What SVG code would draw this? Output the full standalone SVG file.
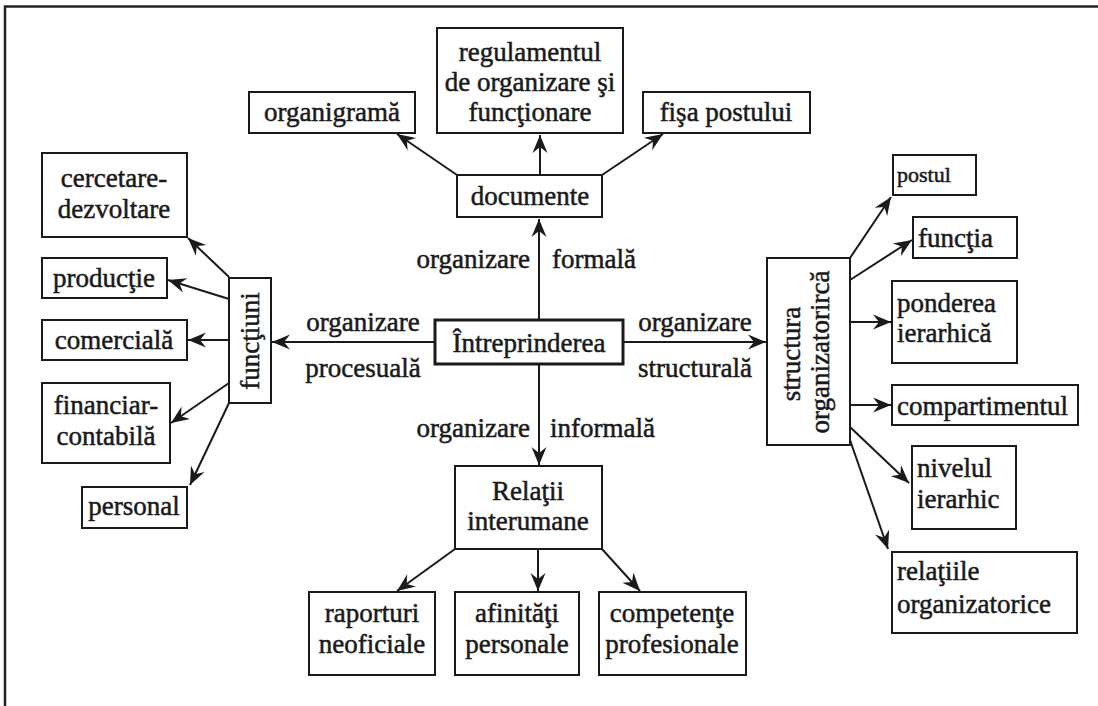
<svg xmlns="http://www.w3.org/2000/svg" width="1098" height="706" viewBox="0 0 1098 706">
<style>
  .box { fill: #fff; stroke: #1a1a1a; stroke-width: 2; }
  .main { fill: #fff; stroke: #1a1a1a; stroke-width: 3; }
  text { font-family: "Liberation Serif", "Times New Roman", serif; font-size: 27px; fill: #1a1a1a; stroke: #1a1a1a; stroke-width: 0.5; }
  .c { text-anchor: middle; }
  .e { text-anchor: end; }
  .sm { font-size: 22px; }
  .conn line { stroke: #1a1a1a; stroke-width: 2; marker-end: url(#arr); }
</style>
<defs>
  <marker id="arr" viewBox="-19 -8 20 16" refX="0" refY="0" markerWidth="20" markerHeight="16" markerUnits="userSpaceOnUse" orient="auto">
    <path d="M0,0 L-18,-7.5 L-12,0 L-18,7.5 Z" fill="#1a1a1a"/>
  </marker>
</defs>
<rect width="1098" height="706" fill="#fff"/>
<g id="frame">
  <line x1="4" y1="6.5" x2="1098" y2="6.5" stroke="#222" stroke-width="2.5"/>
  <line x1="5" y1="6" x2="5" y2="706" stroke="#222" stroke-width="2.5"/>
</g>
<g class="conn" id="connectors">
  <line x1="539" y1="320" x2="539" y2="219"/>
  <line x1="457" y1="175" x2="397" y2="134"/>
  <line x1="540" y1="175" x2="540" y2="135"/>
  <line x1="602" y1="175" x2="663" y2="134"/>
  <line x1="539" y1="364" x2="539" y2="465"/>
  <line x1="455" y1="549" x2="397" y2="591"/>
  <line x1="538" y1="549" x2="538" y2="591"/>
  <line x1="602" y1="549" x2="640" y2="591"/>
  <line x1="435" y1="342" x2="272" y2="342"/>
  <line x1="623" y1="342" x2="766" y2="342"/>
  <line x1="229" y1="277" x2="188" y2="238"/>
  <line x1="229" y1="299" x2="168" y2="280"/>
  <line x1="229" y1="340" x2="188" y2="340"/>
  <line x1="229" y1="383" x2="171" y2="423"/>
  <line x1="229" y1="403" x2="190" y2="485"/>
  <line x1="850" y1="258" x2="891" y2="197"/>
  <line x1="850" y1="280" x2="912" y2="240"/>
  <line x1="850" y1="322" x2="891" y2="322"/>
  <line x1="850" y1="405" x2="891" y2="405"/>
  <line x1="850" y1="427" x2="909" y2="483"/>
  <line x1="850" y1="440" x2="888" y2="549"/>
</g>
<g id="labels">
  <text class="e" x="530" y="268">organizare</text>
  <text x="552" y="268">formală</text>
  <text class="c" x="363" y="331">organizare</text>
  <text class="c" x="363" y="377">procesuală</text>
  <text class="c" x="695" y="331">organizare</text>
  <text class="c" x="695" y="377">structurală</text>
  <text class="e" x="530" y="437">organizare</text>
  <text x="550" y="437">informală</text>
</g>
<g id="intreprinderea">
  <rect class="main" x="435" y="320" width="188" height="44"/>
  <text class="c" x="529" y="352">Întreprinderea</text>
</g>
<g id="documente">
  <rect class="box" x="457" y="175" width="145" height="42"/>
  <text class="c" x="530" y="205">documente</text>
</g>
<g id="organigrama">
  <rect class="box" x="249" y="92" width="166" height="41"/>
  <text class="c" x="332" y="121">organigramă</text>
</g>
<g id="regulamentul">
  <rect class="box" x="437" y="28" width="186" height="105"/>
  <text class="c" x="530" y="61">regulamentul</text>
  <text class="c" x="530" y="91">de organizare şi</text>
  <text class="c" x="530" y="121">funcţionare</text>
</g>
<g id="fisa">
  <rect class="box" x="643" y="92" width="167" height="41"/>
  <text class="c" x="726" y="121">fişa postului</text>
</g>
<g id="relatii">
  <rect class="box" x="455" y="466" width="147" height="83"/>
  <text class="c" x="528" y="500">Relaţii</text>
  <text class="c" x="528" y="530">interumane</text>
</g>
<g id="raporturi">
  <rect class="box" x="309" y="592" width="126" height="83"/>
  <text class="c" x="372" y="622">raporturi</text>
  <text class="c" x="372" y="653">neoficiale</text>
</g>
<g id="afinitati">
  <rect class="box" x="455" y="592" width="124" height="83"/>
  <text class="c" x="517" y="622">afinităţi</text>
  <text class="c" x="517" y="653">personale</text>
</g>
<g id="competente">
  <rect class="box" x="599" y="592" width="147" height="83"/>
  <text class="c" x="672" y="622">competenţe</text>
  <text class="c" x="672" y="653">profesionale</text>
</g>
<g id="functiuni">
  <rect class="box" x="229" y="278" width="42" height="125"/>
  <text class="c" transform="translate(259,341) rotate(-90)">funcţiuni</text>
</g>
<g id="cercetare">
  <rect class="box" x="42" y="153" width="145" height="84"/>
  <text class="c" x="114" y="187">cercetare-</text>
  <text class="c" x="114" y="218">dezvoltare</text>
</g>
<g id="productie">
  <rect class="box" x="42" y="258" width="125" height="40"/>
  <text class="c" x="104" y="287">producţie</text>
</g>
<g id="comerciala">
  <rect class="box" x="42" y="320" width="145" height="40"/>
  <text class="c" x="114" y="349">comercială</text>
</g>
<g id="financiar">
  <rect class="box" x="42" y="383" width="128" height="80"/>
  <text class="c" x="106" y="414">financiar-</text>
  <text class="c" x="106" y="445">contabilă</text>
</g>
<g id="personal">
  <rect class="box" x="82" y="487" width="105" height="41"/>
  <text class="c" x="134" y="515">personal</text>
</g>
<g id="structura">
  <rect class="box" x="767" y="258" width="83" height="187"/>
  <text class="c" transform="translate(800,354) rotate(-90)">structura</text>
  <text class="c" transform="translate(829,352) rotate(-90)">organizatorircă</text>
</g>
<g id="postul">
  <rect class="box" x="893" y="155" width="83" height="40"/>
  <text class="sm" x="897" y="182">postul</text>
</g>
<g id="functia">
  <rect class="box" x="913" y="217" width="104" height="41"/>
  <text x="918" y="247">funcţia</text>
</g>
<g id="ponderea">
  <rect class="box" x="892" y="281" width="125" height="82"/>
  <text x="897" y="312">ponderea</text>
  <text x="897" y="342">ierarhică</text>
</g>
<g id="compartimentul">
  <rect class="box" x="892" y="385" width="186" height="40"/>
  <text x="897" y="415">compartimentul</text>
</g>
<g id="nivelul">
  <rect class="box" x="912" y="446" width="104" height="83"/>
  <text x="917" y="477">nivelul</text>
  <text x="917" y="508">ierarhic</text>
</g>
<g id="relatiile">
  <rect class="box" x="892" y="552" width="185" height="81"/>
  <text x="897" y="580">relaţiile</text>
  <text x="897" y="613">organizatorice</text>
</g>
</svg>
